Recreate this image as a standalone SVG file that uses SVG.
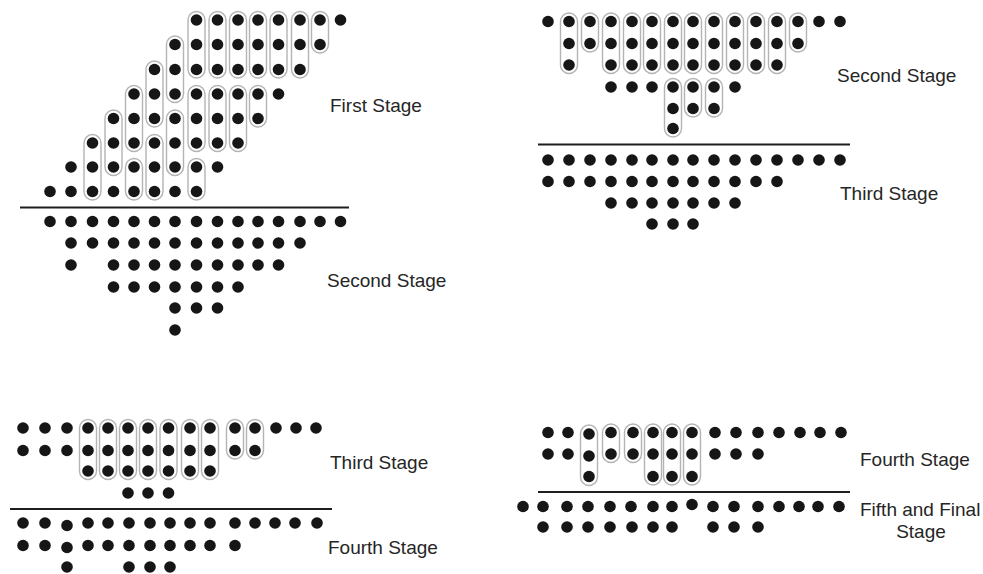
<svg xmlns="http://www.w3.org/2000/svg" width="983" height="574" viewBox="0 0 983 574">
<style>
.d{fill:#161616}
.c{fill:none;stroke:#b4b4b4;stroke-width:1.4}
.ln{stroke:#1e1e1e;stroke-width:2}
.t{font-family:"Liberation Sans",Arial,sans-serif;font-size:19px;fill:#262626}
</style>
<rect width="983" height="574" fill="#fff"/>

<g id="tl-first-capsules">
<rect class="c" x="84" y="134.5" width="17" height="65.5" rx="8.5"/>
<rect class="c" x="105" y="110" width="17" height="65.5" rx="8.5"/>
<rect class="c" x="125.5" y="85.5" width="17" height="66" rx="8.5"/>
<rect class="c" x="125.5" y="158.5" width="17" height="41.5" rx="8.5"/>
<rect class="c" x="146" y="61" width="17" height="66" rx="8.5"/>
<rect class="c" x="146" y="134.5" width="17" height="65.5" rx="8.5"/>
<rect class="c" x="166.5" y="36" width="17" height="66.5" rx="8.5"/>
<rect class="c" x="166.5" y="110" width="17" height="65.5" rx="8.5"/>
<rect class="c" x="188" y="11.5" width="17" height="66.5" rx="8.5"/>
<rect class="c" x="188" y="85.5" width="17" height="66" rx="8.5"/>
<rect class="c" x="188" y="158.5" width="17" height="41.5" rx="8.5"/>
<rect class="c" x="209" y="11.5" width="17" height="66.5" rx="8.5"/>
<rect class="c" x="209" y="85.5" width="17" height="66" rx="8.5"/>
<rect class="c" x="229.5" y="11.5" width="17" height="66.5" rx="8.5"/>
<rect class="c" x="229.5" y="85.5" width="17" height="66" rx="8.5"/>
<rect class="c" x="249.5" y="11.5" width="17" height="66.5" rx="8.5"/>
<rect class="c" x="249.5" y="85.5" width="17" height="41.5" rx="8.5"/>
<rect class="c" x="270" y="11.5" width="17" height="66.5" rx="8.5"/>
<rect class="c" x="291.5" y="11.5" width="17" height="66.5" rx="8.5"/>
<rect class="c" x="311.5" y="11.5" width="17" height="41.5" rx="8.5"/>
</g>

<g id="tl-first-dots">
<circle class="d" cx="196.5" cy="20" r="5.8"/><circle class="d" cx="217.5" cy="20" r="5.8"/><circle class="d" cx="238" cy="20" r="5.8"/><circle class="d" cx="258" cy="20" r="5.8"/><circle class="d" cx="278.5" cy="20" r="5.8"/><circle class="d" cx="300" cy="20" r="5.8"/><circle class="d" cx="320" cy="20" r="5.8"/><circle class="d" cx="340.5" cy="20" r="5.8"/>
<circle class="d" cx="175" cy="44.5" r="5.8"/><circle class="d" cx="196.5" cy="44.5" r="5.8"/><circle class="d" cx="217.5" cy="44.5" r="5.8"/><circle class="d" cx="238" cy="44.5" r="5.8"/><circle class="d" cx="258" cy="44.5" r="5.8"/><circle class="d" cx="278.5" cy="44.5" r="5.8"/><circle class="d" cx="300" cy="44.5" r="5.8"/><circle class="d" cx="320" cy="44.5" r="5.8"/>
<circle class="d" cx="154.5" cy="69.5" r="5.8"/><circle class="d" cx="175" cy="69.5" r="5.8"/><circle class="d" cx="196.5" cy="69.5" r="5.8"/><circle class="d" cx="217.5" cy="69.5" r="5.8"/><circle class="d" cx="238" cy="69.5" r="5.8"/><circle class="d" cx="258" cy="69.5" r="5.8"/><circle class="d" cx="278.5" cy="69.5" r="5.8"/><circle class="d" cx="300" cy="69.5" r="5.8"/>
<circle class="d" cx="134" cy="94" r="5.8"/><circle class="d" cx="154.5" cy="94" r="5.8"/><circle class="d" cx="175" cy="94" r="5.8"/><circle class="d" cx="196.5" cy="94" r="5.8"/><circle class="d" cx="217.5" cy="94" r="5.8"/><circle class="d" cx="238" cy="94" r="5.8"/><circle class="d" cx="258" cy="94" r="5.8"/><circle class="d" cx="278.5" cy="94" r="5.8"/>
<circle class="d" cx="113.5" cy="118.5" r="5.8"/><circle class="d" cx="134" cy="118.5" r="5.8"/><circle class="d" cx="154.5" cy="118.5" r="5.8"/><circle class="d" cx="175" cy="118.5" r="5.8"/><circle class="d" cx="196.5" cy="118.5" r="5.8"/><circle class="d" cx="217.5" cy="118.5" r="5.8"/><circle class="d" cx="238" cy="118.5" r="5.8"/><circle class="d" cx="258" cy="118.5" r="5.8"/>
<circle class="d" cx="92.5" cy="143" r="5.8"/><circle class="d" cx="113.5" cy="143" r="5.8"/><circle class="d" cx="134" cy="143" r="5.8"/><circle class="d" cx="154.5" cy="143" r="5.8"/><circle class="d" cx="175" cy="143" r="5.8"/><circle class="d" cx="196.5" cy="143" r="5.8"/><circle class="d" cx="217.5" cy="143" r="5.8"/><circle class="d" cx="238" cy="143" r="5.8"/>
<circle class="d" cx="71" cy="167" r="5.8"/><circle class="d" cx="92.5" cy="167" r="5.8"/><circle class="d" cx="113.5" cy="167" r="5.8"/><circle class="d" cx="134" cy="167" r="5.8"/><circle class="d" cx="154.5" cy="167" r="5.8"/><circle class="d" cx="175" cy="167" r="5.8"/><circle class="d" cx="196.5" cy="167" r="5.8"/><circle class="d" cx="217.5" cy="167" r="5.8"/>
<circle class="d" cx="50" cy="191.5" r="5.8"/><circle class="d" cx="71" cy="191.5" r="5.8"/><circle class="d" cx="92.5" cy="191.5" r="5.8"/><circle class="d" cx="113.5" cy="191.5" r="5.8"/><circle class="d" cx="134" cy="191.5" r="5.8"/><circle class="d" cx="154.5" cy="191.5" r="5.8"/><circle class="d" cx="175" cy="191.5" r="5.8"/><circle class="d" cx="196.5" cy="191.5" r="5.8"/>
</g>

<g id="tl-second-dots">
<circle class="d" cx="50" cy="221.5" r="5.8"/><circle class="d" cx="71" cy="221.5" r="5.8"/><circle class="d" cx="92.5" cy="221.5" r="5.8"/><circle class="d" cx="113.5" cy="221.5" r="5.8"/><circle class="d" cx="134" cy="221.5" r="5.8"/><circle class="d" cx="154.5" cy="221.5" r="5.8"/><circle class="d" cx="175" cy="221.5" r="5.8"/><circle class="d" cx="196.5" cy="221.5" r="5.8"/><circle class="d" cx="217.5" cy="221.5" r="5.8"/><circle class="d" cx="238" cy="221.5" r="5.8"/><circle class="d" cx="258" cy="221.5" r="5.8"/><circle class="d" cx="278.5" cy="221.5" r="5.8"/><circle class="d" cx="300" cy="221.5" r="5.8"/><circle class="d" cx="320" cy="221.5" r="5.8"/><circle class="d" cx="340.5" cy="221.5" r="5.8"/>
<circle class="d" cx="71" cy="243" r="5.8"/><circle class="d" cx="92.5" cy="243" r="5.8"/><circle class="d" cx="113.5" cy="243" r="5.8"/><circle class="d" cx="134" cy="243" r="5.8"/><circle class="d" cx="154.5" cy="243" r="5.8"/><circle class="d" cx="175" cy="243" r="5.8"/><circle class="d" cx="196.5" cy="243" r="5.8"/><circle class="d" cx="217.5" cy="243" r="5.8"/><circle class="d" cx="238" cy="243" r="5.8"/><circle class="d" cx="258" cy="243" r="5.8"/><circle class="d" cx="278.5" cy="243" r="5.8"/><circle class="d" cx="300" cy="243" r="5.8"/>
<circle class="d" cx="71" cy="265" r="5.8"/><circle class="d" cx="113.5" cy="265" r="5.8"/><circle class="d" cx="134" cy="265" r="5.8"/><circle class="d" cx="154.5" cy="265" r="5.8"/><circle class="d" cx="175" cy="265" r="5.8"/><circle class="d" cx="196.5" cy="265" r="5.8"/><circle class="d" cx="217.5" cy="265" r="5.8"/><circle class="d" cx="238" cy="265" r="5.8"/><circle class="d" cx="258" cy="265" r="5.8"/><circle class="d" cx="278.5" cy="265" r="5.8"/>
<circle class="d" cx="113.5" cy="287" r="5.8"/><circle class="d" cx="134" cy="287" r="5.8"/><circle class="d" cx="154.5" cy="287" r="5.8"/><circle class="d" cx="175" cy="287" r="5.8"/><circle class="d" cx="196.5" cy="287" r="5.8"/><circle class="d" cx="217.5" cy="287" r="5.8"/><circle class="d" cx="238" cy="287" r="5.8"/>
<circle class="d" cx="175" cy="308" r="5.8"/><circle class="d" cx="196.5" cy="308" r="5.8"/><circle class="d" cx="217.5" cy="308" r="5.8"/>
<circle class="d" cx="175" cy="330" r="5.8"/>
</g>

<g id="tr-second-capsules">
<rect class="c" x="560.5" y="13" width="17" height="60.5" rx="8.5"/>
<rect class="c" x="581.5" y="13" width="17" height="39" rx="8.5"/>
<rect class="c" x="602.5" y="13" width="17" height="60.5" rx="8.5"/>
<rect class="c" x="623.5" y="13" width="17" height="60.5" rx="8.5"/>
<rect class="c" x="643.5" y="13" width="17" height="60.5" rx="8.5"/>
<rect class="c" x="664.5" y="13" width="17" height="60.5" rx="8.5"/>
<rect class="c" x="664.5" y="78.5" width="17" height="58.5" rx="8.5"/>
<rect class="c" x="684.5" y="13" width="17" height="60.5" rx="8.5"/>
<rect class="c" x="684.5" y="78.5" width="17" height="38.5" rx="8.5"/>
<rect class="c" x="705.5" y="13" width="17" height="60.5" rx="8.5"/>
<rect class="c" x="705.5" y="78.5" width="17" height="38.5" rx="8.5"/>
<rect class="c" x="726.5" y="13" width="17" height="60.5" rx="8.5"/>
<rect class="c" x="747.5" y="13" width="17" height="60.5" rx="8.5"/>
<rect class="c" x="768.5" y="13" width="17" height="60.5" rx="8.5"/>
<rect class="c" x="789.5" y="13" width="17" height="39" rx="8.5"/>
</g>

<g id="tr-second-dots">
<circle class="d" cx="548" cy="21.5" r="5.8"/><circle class="d" cx="569" cy="21.5" r="5.8"/><circle class="d" cx="590" cy="21.5" r="5.8"/><circle class="d" cx="611" cy="21.5" r="5.8"/><circle class="d" cx="632" cy="21.5" r="5.8"/><circle class="d" cx="652" cy="21.5" r="5.8"/><circle class="d" cx="673" cy="21.5" r="5.8"/><circle class="d" cx="693" cy="21.5" r="5.8"/><circle class="d" cx="714" cy="21.5" r="5.8"/><circle class="d" cx="735" cy="21.5" r="5.8"/><circle class="d" cx="756" cy="21.5" r="5.8"/><circle class="d" cx="777" cy="21.5" r="5.8"/><circle class="d" cx="798" cy="21.5" r="5.8"/><circle class="d" cx="819" cy="21.5" r="5.8"/><circle class="d" cx="840" cy="21.5" r="5.8"/>
<circle class="d" cx="569" cy="43.5" r="5.8"/><circle class="d" cx="590" cy="43.5" r="5.8"/><circle class="d" cx="611" cy="43.5" r="5.8"/><circle class="d" cx="632" cy="43.5" r="5.8"/><circle class="d" cx="652" cy="43.5" r="5.8"/><circle class="d" cx="673" cy="43.5" r="5.8"/><circle class="d" cx="693" cy="43.5" r="5.8"/><circle class="d" cx="714" cy="43.5" r="5.8"/><circle class="d" cx="735" cy="43.5" r="5.8"/><circle class="d" cx="756" cy="43.5" r="5.8"/><circle class="d" cx="777" cy="43.5" r="5.8"/><circle class="d" cx="798" cy="43.5" r="5.8"/>
<circle class="d" cx="569" cy="65" r="5.8"/><circle class="d" cx="611" cy="65" r="5.8"/><circle class="d" cx="632" cy="65" r="5.8"/><circle class="d" cx="652" cy="65" r="5.8"/><circle class="d" cx="673" cy="65" r="5.8"/><circle class="d" cx="693" cy="65" r="5.8"/><circle class="d" cx="714" cy="65" r="5.8"/><circle class="d" cx="735" cy="65" r="5.8"/><circle class="d" cx="756" cy="65" r="5.8"/><circle class="d" cx="777" cy="65" r="5.8"/>
<circle class="d" cx="611" cy="87" r="5.8"/><circle class="d" cx="632" cy="87" r="5.8"/><circle class="d" cx="652" cy="87" r="5.8"/><circle class="d" cx="673" cy="87" r="5.8"/><circle class="d" cx="693" cy="87" r="5.8"/><circle class="d" cx="714" cy="87" r="5.8"/><circle class="d" cx="735" cy="87" r="5.8"/>
<circle class="d" cx="673" cy="108.5" r="5.8"/><circle class="d" cx="693" cy="108.5" r="5.8"/><circle class="d" cx="714" cy="108.5" r="5.8"/>
<circle class="d" cx="673" cy="128.5" r="5.8"/>
</g>

<g id="tr-third-dots">
<circle class="d" cx="548" cy="160" r="5.8"/><circle class="d" cx="569" cy="160" r="5.8"/><circle class="d" cx="590" cy="160" r="5.8"/><circle class="d" cx="611" cy="160" r="5.8"/><circle class="d" cx="632" cy="160" r="5.8"/><circle class="d" cx="652" cy="160" r="5.8"/><circle class="d" cx="673" cy="160" r="5.8"/><circle class="d" cx="693" cy="160" r="5.8"/><circle class="d" cx="714" cy="160" r="5.8"/><circle class="d" cx="735" cy="160" r="5.8"/><circle class="d" cx="756" cy="160" r="5.8"/><circle class="d" cx="777" cy="160" r="5.8"/><circle class="d" cx="798" cy="160" r="5.8"/><circle class="d" cx="819" cy="160" r="5.8"/><circle class="d" cx="840" cy="160" r="5.8"/>
<circle class="d" cx="548" cy="181.5" r="5.8"/><circle class="d" cx="569" cy="181.5" r="5.8"/><circle class="d" cx="590" cy="181.5" r="5.8"/><circle class="d" cx="611" cy="181.5" r="5.8"/><circle class="d" cx="632" cy="181.5" r="5.8"/><circle class="d" cx="652" cy="181.5" r="5.8"/><circle class="d" cx="673" cy="181.5" r="5.8"/><circle class="d" cx="693" cy="181.5" r="5.8"/><circle class="d" cx="714" cy="181.5" r="5.8"/><circle class="d" cx="735" cy="181.5" r="5.8"/><circle class="d" cx="756" cy="181.5" r="5.8"/><circle class="d" cx="777" cy="181.5" r="5.8"/>
<circle class="d" cx="611" cy="203" r="5.8"/><circle class="d" cx="632" cy="203" r="5.8"/><circle class="d" cx="652" cy="203" r="5.8"/><circle class="d" cx="673" cy="203" r="5.8"/><circle class="d" cx="693" cy="203" r="5.8"/><circle class="d" cx="714" cy="203" r="5.8"/><circle class="d" cx="735" cy="203" r="5.8"/>
<circle class="d" cx="652" cy="224" r="5.8"/><circle class="d" cx="673" cy="224" r="5.8"/><circle class="d" cx="693" cy="224" r="5.8"/>
</g>

<g id="bl-third-capsules">
<rect class="c" x="79.5" y="419.5" width="17" height="60" rx="8.5"/>
<rect class="c" x="99.5" y="419.5" width="17" height="60" rx="8.5"/>
<rect class="c" x="119.5" y="419.5" width="17" height="60" rx="8.5"/>
<rect class="c" x="139.5" y="419.5" width="17" height="60" rx="8.5"/>
<rect class="c" x="160" y="419.5" width="17" height="60" rx="8.5"/>
<rect class="c" x="181.5" y="419.5" width="17" height="60" rx="8.5"/>
<rect class="c" x="201.5" y="419.5" width="17" height="60" rx="8.5"/>
<rect class="c" x="226.5" y="419.5" width="17" height="39.5" rx="8.5"/>
<rect class="c" x="246.5" y="419.5" width="17" height="39.5" rx="8.5"/>
</g>

<g id="bl-third-dots">
<circle class="d" cx="23" cy="428" r="5.8"/><circle class="d" cx="45" cy="428" r="5.8"/><circle class="d" cx="67" cy="428" r="5.8"/><circle class="d" cx="88" cy="428" r="5.8"/><circle class="d" cx="108" cy="428" r="5.8"/><circle class="d" cx="128" cy="428" r="5.8"/><circle class="d" cx="148" cy="428" r="5.8"/><circle class="d" cx="168.5" cy="428" r="5.8"/><circle class="d" cx="190" cy="428" r="5.8"/><circle class="d" cx="210" cy="428" r="5.8"/><circle class="d" cx="235" cy="428" r="5.8"/><circle class="d" cx="255" cy="428" r="5.8"/><circle class="d" cx="276" cy="428" r="5.8"/><circle class="d" cx="296" cy="428" r="5.8"/><circle class="d" cx="316" cy="428" r="5.8"/>
<circle class="d" cx="23" cy="450.5" r="5.8"/><circle class="d" cx="45" cy="450.5" r="5.8"/><circle class="d" cx="67" cy="450.5" r="5.8"/><circle class="d" cx="88" cy="450.5" r="5.8"/><circle class="d" cx="108" cy="450.5" r="5.8"/><circle class="d" cx="128" cy="450.5" r="5.8"/><circle class="d" cx="148" cy="450.5" r="5.8"/><circle class="d" cx="168.5" cy="450.5" r="5.8"/><circle class="d" cx="190" cy="450.5" r="5.8"/><circle class="d" cx="210" cy="450.5" r="5.8"/><circle class="d" cx="235" cy="450.5" r="5.8"/><circle class="d" cx="255" cy="450.5" r="5.8"/>
<circle class="d" cx="88" cy="471" r="5.8"/><circle class="d" cx="108" cy="471" r="5.8"/><circle class="d" cx="128" cy="471" r="5.8"/><circle class="d" cx="148" cy="471" r="5.8"/><circle class="d" cx="168.5" cy="471" r="5.8"/><circle class="d" cx="190" cy="471" r="5.8"/><circle class="d" cx="210" cy="471" r="5.8"/>
<circle class="d" cx="128" cy="493" r="5.8"/><circle class="d" cx="148" cy="493" r="5.8"/><circle class="d" cx="168.5" cy="493" r="5.8"/>
</g>

<g id="bl-fourth-dots">
<circle class="d" cx="23" cy="523" r="5.8"/><circle class="d" cx="45" cy="523" r="5.8"/><circle class="d" cx="67" cy="525.5" r="5.8"/><circle class="d" cx="88" cy="523" r="5.8"/><circle class="d" cx="108" cy="523" r="5.8"/><circle class="d" cx="129" cy="523" r="5.8"/><circle class="d" cx="150" cy="523" r="5.8"/><circle class="d" cx="170" cy="523" r="5.8"/><circle class="d" cx="190" cy="523" r="5.8"/><circle class="d" cx="210" cy="523" r="5.8"/><circle class="d" cx="235" cy="523" r="5.8"/><circle class="d" cx="255" cy="523" r="5.8"/><circle class="d" cx="275" cy="523" r="5.8"/><circle class="d" cx="295" cy="523" r="5.8"/><circle class="d" cx="317" cy="523" r="5.8"/>
<circle class="d" cx="23" cy="545.5" r="5.8"/><circle class="d" cx="45" cy="545.5" r="5.8"/><circle class="d" cx="67" cy="547.5" r="5.8"/><circle class="d" cx="88" cy="545.5" r="5.8"/><circle class="d" cx="108" cy="545.5" r="5.8"/><circle class="d" cx="129" cy="545.5" r="5.8"/><circle class="d" cx="150" cy="545.5" r="5.8"/><circle class="d" cx="170" cy="545.5" r="5.8"/><circle class="d" cx="190" cy="545.5" r="5.8"/><circle class="d" cx="210" cy="545.5" r="5.8"/><circle class="d" cx="235" cy="545.5" r="5.8"/>
<circle class="d" cx="67" cy="567" r="5.8"/><circle class="d" cx="129" cy="567" r="5.8"/><circle class="d" cx="150" cy="567" r="5.8"/><circle class="d" cx="170" cy="567" r="5.8"/>
</g>

<g id="br-fourth-capsules">
<rect class="c" x="580.5" y="425" width="17" height="60.5" rx="8.5"/>
<rect class="c" x="602.5" y="424" width="17" height="38.5" rx="8.5"/>
<rect class="c" x="624.5" y="424" width="17" height="38.5" rx="8.5"/>
<rect class="c" x="644.5" y="424" width="17" height="61" rx="8.5"/>
<rect class="c" x="663.5" y="424" width="17" height="61" rx="8.5"/>
<rect class="c" x="683.5" y="424" width="17" height="61" rx="8.5"/>
</g>

<g id="br-fourth-dots">
<circle class="d" cx="548" cy="432.5" r="5.8"/><circle class="d" cx="568" cy="432.5" r="5.8"/><circle class="d" cx="589" cy="434" r="5.8"/><circle class="d" cx="611" cy="432.5" r="5.8"/><circle class="d" cx="633" cy="432.5" r="5.8"/><circle class="d" cx="653" cy="432.5" r="5.8"/><circle class="d" cx="672" cy="432.5" r="5.8"/><circle class="d" cx="692" cy="432.5" r="5.8"/><circle class="d" cx="715" cy="432.5" r="5.8"/><circle class="d" cx="736" cy="432.5" r="5.8"/><circle class="d" cx="758" cy="432.5" r="5.8"/><circle class="d" cx="779" cy="432.5" r="5.8"/><circle class="d" cx="800" cy="432.5" r="5.8"/><circle class="d" cx="820" cy="432.5" r="5.8"/><circle class="d" cx="841" cy="432.5" r="5.8"/>
<circle class="d" cx="548" cy="454" r="5.8"/><circle class="d" cx="568" cy="454" r="5.8"/><circle class="d" cx="589" cy="456" r="5.8"/><circle class="d" cx="611" cy="454" r="5.8"/><circle class="d" cx="633" cy="454" r="5.8"/><circle class="d" cx="653" cy="454" r="5.8"/><circle class="d" cx="672" cy="454" r="5.8"/><circle class="d" cx="692" cy="454" r="5.8"/><circle class="d" cx="715" cy="454" r="5.8"/><circle class="d" cx="736" cy="454" r="5.8"/><circle class="d" cx="758" cy="454" r="5.8"/>
<circle class="d" cx="589" cy="476.5" r="5.8"/><circle class="d" cx="653" cy="476.5" r="5.8"/><circle class="d" cx="672" cy="476.5" r="5.8"/><circle class="d" cx="692" cy="476.5" r="5.8"/>
</g>

<g id="br-fifth-dots">
<circle class="d" cx="523" cy="506.5" r="5.8"/><circle class="d" cx="543" cy="506.5" r="5.8"/><circle class="d" cx="567" cy="506.5" r="5.8"/><circle class="d" cx="588" cy="506.5" r="5.8"/><circle class="d" cx="610" cy="506.5" r="5.8"/><circle class="d" cx="631" cy="506.5" r="5.8"/><circle class="d" cx="653" cy="506.5" r="5.8"/><circle class="d" cx="672" cy="506.5" r="5.8"/><circle class="d" cx="692" cy="504.5" r="5.8"/><circle class="d" cx="713" cy="506.5" r="5.8"/><circle class="d" cx="734" cy="506.5" r="5.8"/><circle class="d" cx="758" cy="506.5" r="5.8"/><circle class="d" cx="779" cy="506.5" r="5.8"/><circle class="d" cx="799" cy="506.5" r="5.8"/><circle class="d" cx="818" cy="506.5" r="5.8"/><circle class="d" cx="839" cy="506.5" r="5.8"/>
<circle class="d" cx="543" cy="527" r="5.8"/><circle class="d" cx="567" cy="527" r="5.8"/><circle class="d" cx="588" cy="527" r="5.8"/><circle class="d" cx="610" cy="527" r="5.8"/><circle class="d" cx="632" cy="527" r="5.8"/><circle class="d" cx="653" cy="527" r="5.8"/><circle class="d" cx="672" cy="527" r="5.8"/><circle class="d" cx="713" cy="527" r="5.8"/><circle class="d" cx="734" cy="527" r="5.8"/><circle class="d" cx="758" cy="527" r="5.8"/>
</g>

<g id="separators">
<line class="ln" x1="20" y1="207.5" x2="349" y2="207.5"/>
<line class="ln" x1="538" y1="144.5" x2="850" y2="144.5"/>
<line class="ln" x1="10" y1="509" x2="332" y2="509"/>
<line class="ln" x1="538" y1="492" x2="850" y2="492"/>
</g>

<g id="labels">
<text class="t" x="330" y="112">First Stage</text>
<text class="t" x="327" y="287">Second Stage</text>
<text class="t" x="837" y="82">Second Stage</text>
<text class="t" x="840" y="200">Third Stage</text>
<text class="t" x="330" y="469">Third Stage</text>
<text class="t" x="328" y="554">Fourth Stage</text>
<text class="t" x="860" y="466">Fourth Stage</text>
<text class="t" x="860" y="516">Fifth and Final</text>
<text class="t" x="921" y="538" text-anchor="middle">Stage</text>
</g>
</svg>
